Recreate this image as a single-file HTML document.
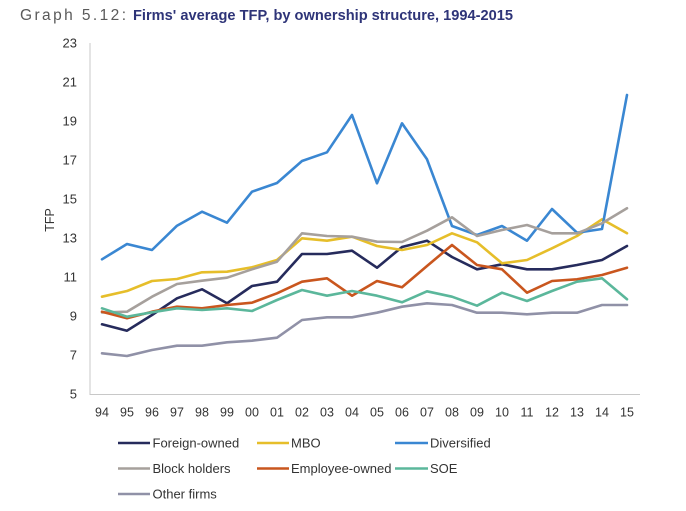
<!DOCTYPE html>
<html>
<head>
<meta charset="utf-8">
<style>
  html,body{margin:0;padding:0;background:#fff;}
  svg{display:block;}
  text{font-family:"Liberation Sans",Arial,sans-serif;}
</style>
</head>
<body>
<svg width="686" height="511" viewBox="0 0 686 511" xmlns="http://www.w3.org/2000/svg">
  <rect width="686" height="511" fill="#fff"/>
  <!-- Title -->
  <text x="20" y="20" font-size="15.5" fill="#5a5a5a" textLength="106" lengthAdjust="spacing">Graph 5.12:</text>
  <text x="133" y="20" font-size="14.5" font-weight="bold" fill="#2E3478" textLength="380" lengthAdjust="spacingAndGlyphs">Firms' average TFP, by ownership structure, 1994-2015</text>

  <!-- Axes -->
  <line x1="90" y1="43" x2="90" y2="395" stroke="#C8C8C8" stroke-width="1"/>
  <line x1="90" y1="394.5" x2="640" y2="394.5" stroke="#C8C8C8" stroke-width="1"/>

  <!-- Y labels -->
  <g font-size="13" fill="#333" text-anchor="end">
    <text x="77" y="47.5">23</text>
    <text x="77" y="86.5">21</text>
    <text x="77" y="125.5">19</text>
    <text x="77" y="164.5">17</text>
    <text x="77" y="203.5">15</text>
    <text x="77" y="242.5">13</text>
    <text x="77" y="281.5">11</text>
    <text x="77" y="320.5">9</text>
    <text x="77" y="359.5">7</text>
    <text x="77" y="398.5">5</text>
  </g>
  <text x="0" y="0" font-size="12.5" fill="#333" text-anchor="middle" transform="translate(54,220) rotate(-90)">TFP</text>

  <!-- X labels -->
  <g font-size="12.5" fill="#333" text-anchor="middle">
    <text x="102" y="416.5">94</text>
    <text x="127" y="416.5">95</text>
    <text x="152" y="416.5">96</text>
    <text x="177" y="416.5">97</text>
    <text x="202" y="416.5">98</text>
    <text x="227" y="416.5">99</text>
    <text x="252" y="416.5">00</text>
    <text x="277" y="416.5">01</text>
    <text x="302" y="416.5">02</text>
    <text x="327" y="416.5">03</text>
    <text x="352" y="416.5">04</text>
    <text x="377" y="416.5">05</text>
    <text x="402" y="416.5">06</text>
    <text x="427" y="416.5">07</text>
    <text x="452" y="416.5">08</text>
    <text x="477" y="416.5">09</text>
    <text x="502" y="416.5">10</text>
    <text x="527" y="416.5">11</text>
    <text x="552" y="416.5">12</text>
    <text x="577" y="416.5">13</text>
    <text x="602" y="416.5">14</text>
    <text x="627" y="416.5">15</text>
  </g>

  <!-- Series -->
  <g fill="none" stroke-width="2.6" stroke-linejoin="round" stroke-linecap="round">
    <!-- Foreign-owned -->
    <polyline stroke="#262B5C" points="102,324.3 127,330.7 152,315 177,298.3 202,289.3 227,303.3 252,286 277,281.7 302,254 327,254 352,250.7 377,267.7 402,247 427,240.7 452,257 477,269.3 502,264.3 527,269.3 552,269.3 577,265 602,260 627,246"/>
    <!-- MBO -->
    <polyline stroke="#E6BE2A" points="102,296.7 127,291 152,281 177,279 202,272.3 227,271.7 252,267.3 277,260 302,238.3 327,240.7 352,236.7 377,246 402,250 427,245 452,233.3 477,242.3 502,263.3 527,260 552,248.3 577,236 602,219.3 627,233.3"/>
    <!-- Diversified -->
    <polyline stroke="#3A87D2" points="102,259.3 127,244 152,250 177,225.7 202,211.7 227,222.7 252,191.7 277,183 302,161 327,152.3 352,115 377,183.3 402,123.3 427,159.3 452,226 477,235 502,226 527,240.7 552,209 577,232.7 602,229 627,95"/>
    <!-- Block holders -->
    <polyline stroke="#A6A09C" points="102,312.5 127,311.7 152,296.7 177,284 202,280.7 227,277.7 252,269.3 277,261.7 302,233.3 327,236 352,236.7 377,241.7 402,242 427,230.7 452,217.3 477,236 502,230 527,225 552,233.3 577,233.3 602,223.3 627,208.3"/>
    <!-- Employee-owned -->
    <polyline stroke="#C9561E" points="102,311.7 127,318.3 152,311.7 177,306.7 202,308.3 227,305 252,302.7 277,293.3 302,281.7 327,278.3 352,295.7 377,281 402,287.3 427,266 452,245 477,265 502,269.3 527,292.7 552,281 577,279.3 602,275 627,267.7"/>
    <!-- SOE -->
    <polyline stroke="#5BB79B" points="102,308.3 127,316.7 152,312.3 177,308.3 202,310 227,308.3 252,311 277,300 302,290 327,295.7 352,291 377,295.7 402,302.3 427,291.3 452,296.7 477,305.7 502,292.7 527,301 552,291 577,281.7 602,278.3 627,299.3"/>
    <!-- Other firms -->
    <polyline stroke="#9091A7" points="102,353.3 127,356 152,350 177,345.7 202,345.7 227,342.3 252,340.7 277,337.7 302,320 327,317.3 352,317.3 377,312.7 402,306.7 427,303.3 452,305 477,312.7 502,312.7 527,314.3 552,312.7 577,312.7 602,305 627,305"/>
  </g>

  <!-- Legend -->
  <g stroke-width="2.6">
    <line x1="118" y1="443" x2="150" y2="443" stroke="#262B5C"/>
    <line x1="257" y1="443" x2="289" y2="443" stroke="#E6BE2A"/>
    <line x1="395" y1="443" x2="428" y2="443" stroke="#3A87D2"/>
    <line x1="118" y1="468.5" x2="150" y2="468.5" stroke="#A6A09C"/>
    <line x1="257" y1="468.5" x2="289" y2="468.5" stroke="#C9561E"/>
    <line x1="395" y1="468.5" x2="428" y2="468.5" stroke="#5BB79B"/>
    <line x1="118" y1="494" x2="150" y2="494" stroke="#9091A7"/>
  </g>
  <g font-size="13" fill="#333">
    <text x="152.5" y="447.5">Foreign-owned</text>
    <text x="291" y="447.5">MBO</text>
    <text x="430" y="447.5">Diversified</text>
    <text x="152.5" y="473">Block holders</text>
    <text x="291" y="473">Employee-owned</text>
    <text x="430" y="473">SOE</text>
    <text x="152.5" y="498.5">Other firms</text>
  </g>
</svg>
</body>
</html>
